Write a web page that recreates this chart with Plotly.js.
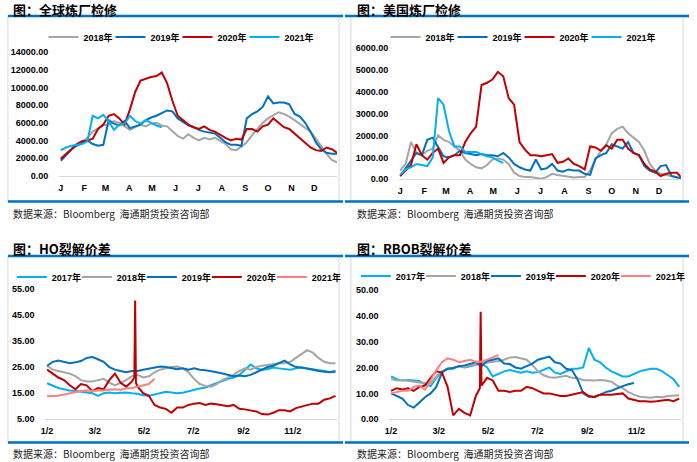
<!DOCTYPE html>
<html><head><meta charset="utf-8">
<script src="https://cdn.plot.ly/plotly-3.0.1.min.js"></script>
<style>html,body{margin:0;padding:0;background:#fff}#chart{width:697px;height:462px}</style>
</head><body><div id="chart"></div>
<script>
// ---------- shared tick labels ----------
const monthStarts = [0,31,59,90,120,151,181,212,243,273,304,334];
const monthLetters = ['J','F','M','A','M','J','J','A','S','O','N','D'];
const crackTickDays = [1,60,121,182,244,305];
const crackTickText = ['1/2','3/2','5/2','7/2','9/2','11/2'];

// ---------- top panels: weekly day-of-year ----------
const daysTop = [0,7,14,21,28,35,42,49,56,63,70,77,84,91,98,105,112,119,126,133,140,147,154,161,168,175,182,189,196,203,210,217,224,231,238,245,252,259,266,273,280,287,294,301,308,315,322,329,336,343,350,357,364];

// 全球炼厂检修
const global2018 = [2000,2500,3000,3500,3800,4300,5000,5400,5700,5800,6200,6000,5600,5200,5500,5800,5600,5900,6000,5700,5600,5000,4500,4200,4700,4300,4000,4300,4100,4300,3900,3600,3000,2900,3300,3800,4600,5300,6000,6500,6900,7200,7000,6700,6300,5900,5400,5000,4200,3300,2500,1800,1500];
const global2019 = [1700,2300,3000,3400,3700,4000,3600,3400,3500,6300,5900,5700,6200,5400,5600,5800,6300,6600,6800,7100,7400,7300,6500,6100,5700,5500,5200,5000,4900,4800,4300,3800,3500,3500,3400,6500,7000,7300,7800,9000,8200,8300,8300,8100,7000,6700,6000,5000,3800,3000,2600,2500,2500];
const global2020 = [1900,2400,3000,3600,3900,4000,4200,5300,5800,6800,7000,6500,5800,7500,9500,10800,11000,11200,11300,11700,10500,8500,6800,6300,5800,5500,5300,5600,5200,5000,4600,4300,4000,4200,4100,5300,5300,5000,5600,5800,6500,6000,5500,5300,4800,4200,3800,3200,2900,2800,3200,3000,2600];
const global2021 = [2900,3200,3400,3500,3600,3900,6800,6500,6900,6200,5200,5800,5900,6800,6200,5900,6300,6000,5700,5500];

// 美国炼厂检修
const us2018 = [400,700,1700,1200,1100,1300,1400,2000,1800,1700,1500,1300,900,700,550,500,650,900,950,900,700,300,150,100,100,50,30,100,250,200,150,100,80,100,100,400,900,1300,1600,2100,2300,2400,2100,1900,1700,1300,700,400,250,200,150,100,50];
const us2019 = [150,500,800,1200,1100,1800,1900,1500,1050,1000,1100,1300,1200,1150,1100,1150,1100,1100,1050,1200,1000,700,550,450,400,900,450,500,700,400,350,450,400,400,250,200,950,1100,1200,1600,1500,1400,1700,1200,1100,600,400,300,600,650,150,80,50];
const us2020 = [150,400,650,1600,1100,900,1200,1400,750,1000,1100,1100,1700,2100,2400,4300,4400,4550,4900,4700,3700,3400,1700,1350,1100,1100,1050,1100,1150,750,800,950,700,600,450,1500,1450,1300,1550,1400,1800,1800,1400,1200,1100,700,450,350,150,250,300,300,50];
const us2021 = [200,450,550,700,650,600,1000,3700,3400,2200,1500,1500,1250,1250,1250,1150,1050,1000,850,750];

// ---------- bottom panels: weekly trading days (day-of-year) ----------
const daysCrack = [1,8,15,22,29,36,43,50,57,64,71,78,85,92,99,106,113,120,127,134,141,148,155,162,169,176,183,190,197,204,211,218,225,232,239,246,253,260,267,274,281,288,295,302,309,316,323,330,337,344,351,358];
const daysHO2020 = [1,8,15,22,29,36,43,50,57,64,71,78,85,92,99,106,109,110,111,113,120,127,134,141,148,155,162,169,176,183,190,197,204,211,218,225,232,239,246,253,260,267,274,281,288,295,302,309,316,323,330,337,344,351,358];
const daysRB2020 = [1,8,15,22,29,36,43,50,57,64,71,78,85,92,99,106,111,112,113,120,127,134,141,148,155,162,169,176,183,190,197,204,211,218,225,232,239,246,253,260,267,274,281,288,295,302,309,316,323,330,337,344,351,358];

// HO裂解价差
const ho2017 = [18.8,17.8,17.0,16.5,16.0,15.8,15.5,15.2,15.0,14.0,15.0,15.3,15.0,15.2,15.3,15.0,14.8,14.2,14.0,14.5,15.0,15.5,15.3,15.0,15.2,15.8,16.2,16.8,17.2,18.0,19.0,19.8,20.5,21.0,22.0,24.0,26.0,24.5,24.0,24.2,24.8,24.5,24.3,24.0,24.5,24.8,24.5,24.2,24.0,23.5,23.0,23.5];
const ho2018 = [25.5,24.0,23.5,23.0,22.5,21.5,20.0,19.5,19.5,20.0,20.5,19.0,18.0,19.0,20.0,21.5,22.0,21.0,21.5,23.0,24.0,24.5,25.0,25.2,24.5,23.0,20.5,18.5,17.8,17.5,18.5,20.0,21.0,22.0,23.5,24.5,24.0,25.0,25.5,25.8,26.0,26.5,26.5,27.0,28.5,30.0,31.5,30.5,28.5,27.0,26.5,26.5];
const ho2019 = [25.5,27.0,27.5,27.0,26.5,26.8,27.3,28.5,28.8,28.0,27.0,25.0,24.0,23.5,23.0,23.5,23.5,24.0,24.5,24.8,25.2,25.0,24.5,24.2,24.5,24.0,24.5,24.0,23.8,23.5,23.0,22.5,22.0,21.5,21.8,21.5,22.0,23.0,24.0,25.0,25.5,26.5,27.5,26.0,25.0,24.8,24.5,24.0,23.5,23.2,23.0,23.3];
const ho2020 = [24.0,22.5,21.0,20.0,18.0,16.5,18.5,18.0,15.8,17.0,16.5,20.0,22.5,19.0,17.5,19.5,21.0,50.5,19.0,17.5,15.0,14.0,10.5,9.5,9.0,7.5,9.5,9.5,10.5,11.0,11.2,10.5,11.0,10.8,10.5,10.0,10.5,9.0,8.8,8.5,8.0,7.0,6.8,7.5,8.5,8.5,8.0,9.3,9.8,10.5,11.0,11.0,12.5,13.0,14.0];
const ho2021 = [13.8,13.8,14.0,14.5,15.0,15.5,15.8,16.0,15.8,16.0,16.0,16.3,16.5,16.3,16.8,17.0,17.5,18.0,18.5,20.5];

// RBOB裂解价差
const rb2017 = [16.5,15.5,15.0,15.2,15.0,14.8,13.5,12.8,16.0,18.5,19.5,19.5,20.5,20.0,20.5,21.0,21.5,20.0,16.5,17.5,18.5,19.0,18.5,18.0,18.5,18.0,18.2,19.0,20.0,18.0,17.5,18.5,19.5,19.5,20.0,27.5,23.0,22.0,20.0,18.5,17.5,16.5,16.5,17.5,18.5,19.0,19.5,19.5,18.5,17.0,15.5,12.5];
const rb2018 = [15.5,15.0,15.2,14.8,14.5,14.2,14.0,13.8,16.5,18.5,19.5,19.8,20.5,20.2,20.8,21.0,21.5,21.8,22.0,22.5,23.0,23.8,24.0,23.5,23.0,21.0,18.5,17.0,16.2,16.0,16.5,16.8,16.0,15.8,15.2,15.0,15.0,15.2,15.0,14.5,13.0,12.0,10.5,9.5,8.7,8.5,8.3,8.7,8.5,9.0,9.2,9.3];
const rb2019 = [10.0,9.0,8.0,5.5,4.5,6.5,8.5,10.0,12.5,18.0,19.5,19.8,20.5,20.8,21.5,22.0,20.5,22.5,23.0,23.5,21.5,21.3,20.0,19.5,20.5,21.5,23.0,23.5,24.2,22.0,21.5,19.5,19.0,15.5,10.0,8.7,8.8,9.5,10.5,11.0,12.0,12.8,13.5,14.0];
const rb2020 = [11.0,12.0,11.5,12.0,11.0,12.5,13.0,16.0,18.5,18.0,12.5,1.5,4.0,2.5,1.5,9.0,12.0,41.5,13.0,16.0,15.0,11.0,11.0,10.5,11.0,11.0,12.5,12.0,11.0,10.0,10.0,9.5,9.0,9.0,9.5,10.0,10.5,9.0,8.5,9.5,9.5,9.5,9.8,10.0,8.0,7.5,7.0,7.0,6.8,7.0,7.2,7.5,7.0,8.0];
const rb2021 = [10.0,10.5,11.0,11.0,12.5,13.0,11.5,15.0,19.0,22.0,23.5,23.0,22.0,22.5,23.0,22.2,22.2,23.0,24.0,24.8];

// ---------- styling ----------
const C = {c17:'#00B0F0', c18:'#A5A5A5', c19:'#0070C0', c20:'#C00000', c21top:'#00B0F0', c21bot:'#FF8080'};
const W = 697, H = 462;
const px = v => v / W;
const py = v => 1 - v / H;

function ln(x, y, name, color, xa, ya, lg, lw) {
  const t = {type:'scatter', mode:'lines', x:x, y:y, name:name,
    line:{color:color, width:2}, xaxis:xa, yaxis:ya, legend:lg, hoverinfo:'skip'};
  if (lw) t.legendwidth = lw;
  return t;
}

const traces = [
  ln(daysTop, global2018, '2018年', C.c18, 'x', 'y', 'legend'),
  ln(daysTop, global2019, '2019年', C.c19, 'x', 'y', 'legend'),
  ln(daysTop, global2020, '2020年', C.c20, 'x', 'y', 'legend'),
  ln(daysTop.slice(0, global2021.length), global2021, '2021年', C.c21top, 'x', 'y', 'legend', 36),

  ln(daysTop, us2018, '2018年', C.c18, 'x2', 'y2', 'legend2'),
  ln(daysTop, us2019, '2019年', C.c19, 'x2', 'y2', 'legend2'),
  ln(daysTop, us2020, '2020年', C.c20, 'x2', 'y2', 'legend2'),
  ln(daysTop.slice(0, us2021.length), us2021, '2021年', C.c21top, 'x2', 'y2', 'legend2', 36),

  ln(daysCrack, ho2017, '2017年', C.c17, 'x3', 'y3', 'legend3'),
  ln(daysCrack, ho2018, '2018年', C.c18, 'x3', 'y3', 'legend3'),
  ln(daysCrack, ho2019, '2019年', C.c19, 'x3', 'y3', 'legend3'),
  ln(daysHO2020, ho2020, '2020年', C.c20, 'x3', 'y3', 'legend3'),
  ln(daysCrack.slice(0, ho2021.length), ho2021, '2021年', C.c21bot, 'x3', 'y3', 'legend3', 36),

  ln(daysCrack, rb2017, '2017年', C.c17, 'x4', 'y4', 'legend4'),
  ln(daysCrack, rb2018, '2018年', C.c18, 'x4', 'y4', 'legend4'),
  ln(daysCrack.slice(0, rb2019.length), rb2019, '2019年', C.c19, 'x4', 'y4', 'legend4'),
  ln(daysRB2020, rb2020, '2020年', C.c20, 'x4', 'y4', 'legend4'),
  ln(daysCrack.slice(0, rb2021.length), rb2021, '2021年', C.c21bot, 'x4', 'y4', 'legend4', 36)
];

const tickFont = {family:'Liberation Sans, Arial, sans-serif', size:9, color:'#000', weight:'bold'};
const legFont = {family:'Liberation Sans, Arial, Noto Sans CJK SC, sans-serif', size:9, color:'#000', weight:'bold'};

function xAx(dom, range, tv, tt, anchor) {
  return {domain:dom, range:range, anchor:anchor, tickmode:'array', tickvals:tv, ticktext:tt,
    showline:true, linecolor:'#D9D9D9', linewidth:1, ticks:'', showgrid:false, zeroline:false,
    tickfont:tickFont, ticklabelstandoff:3, fixedrange:true};
}
function yAx(dom, range, dtick, anchor) {
  return {domain:dom, range:range, dtick:dtick, tick0:range[0], anchor:anchor, tickformat:'.2f',
    showline:false, ticks:'', showgrid:false, zeroline:false,
    tickfont:tickFont, ticklabelstandoff:10, fixedrange:true};
}
function leg(xp, yp, ew) {
  return {orientation:'h', x:px(xp), xanchor:'left', y:py(yp), yanchor:'middle',
    font:legFont, entrywidth:ew, entrywidthmode:'pixels', bgcolor:'rgba(0,0,0,0)',
    borderwidth:0, itemclick:false, itemdoubleclick:false, tracegroupgap:0};
}

const BLUE = '#0070C0', BOX = '#D9D9D9';
function rule(x0, x1, y) {
  return {type:'line', xref:'paper', yref:'paper', x0:px(x0), x1:px(x1), y0:py(y), y1:py(y),
    line:{color:BLUE, width:2.5}};
}
function box(x0, x1, y0, y1) {
  return {type:'rect', xref:'paper', yref:'paper', x0:px(x0), x1:px(x1), y0:py(y1), y1:py(y0),
    line:{color:BOX, width:1}, fillcolor:'rgba(0,0,0,0)', layer:'below'};
}
function title(text, x, y) {
  return {text:text, xref:'paper', yref:'paper', x:px(x), y:py(y), xanchor:'left', yanchor:'middle',
    showarrow:false, font:{family:'Noto Sans CJK SC, sans-serif', size:13, color:'#000', weight:'bold'}};
}
function source(x, y) {
  return {text:'数据来源：Bloomberg  海通期货投资咨询部', xref:'paper', yref:'paper', x:px(x), y:py(y),
    xanchor:'left', yanchor:'middle', showarrow:false,
    font:{family:'Noto Sans CJK SC, sans-serif', size:10, color:'#222'}};
}

const layout = {
  width:W, height:H, margin:{l:0, r:0, t:0, b:0},
  paper_bgcolor:'#fff', plot_bgcolor:'rgba(0,0,0,0)', showlegend:true,
  xaxis:  xAx([px(60), px(341)], [-2, 364], monthStarts, monthLetters, 'y'),
  yaxis:  yAx([py(175.7), py(52.3)], [0, 14000], 2000, 'x'),
  xaxis2: xAx([px(404), px(688.7)], [-1, 362], monthStarts, monthLetters, 'y2'),
  yaxis2: yAx([py(179.3), py(47.7)], [0, 6000], 1000, 'x2'),
  xaxis3: xAx([px(46), px(341)], [-1, 360], crackTickDays, crackTickText, 'y3'),
  yaxis3: yAx([py(419.3), py(288.7)], [5, 55], 10, 'x3'),
  xaxis4: xAx([px(394), px(688.7)], [-1, 360], crackTickDays, crackTickText, 'y4'),
  yaxis4: yAx([py(419.3), py(289.7)], [0, 50], 10, 'x4'),
  legend:  leg(44, 37, 22),
  legend2: leg(390, 37, 22),
  legend3: leg(12, 277, 20),
  legend4: leg(360, 276, 20),
  shapes: [
    box(8, 343, 16, 201), box(355, 691, 16, 201),
    box(8, 343, 256, 442), box(355, 691, 256, 442),
    rule(8, 347, 16), rule(349, 697, 16), rule(8, 347, 201.5), rule(349, 697, 201.5),
    rule(8, 347, 256), rule(349, 697, 256), rule(8, 347, 442.5), rule(349, 697, 442.5)
  ],
  annotations: [
    title('图：全球炼厂检修', 11, 9.5), title('图：美国炼厂检修', 359, 9.5),
    title('图：HO裂解价差', 11, 248), title('图：RBOB裂解价差', 359, 248),
    source(11, 213), source(359, 213), source(11, 453), source(359, 453)
  ]
};

Plotly.newPlot('chart', traces, layout, {displayModeBar:false, staticPlot:true});
</script></body></html>
